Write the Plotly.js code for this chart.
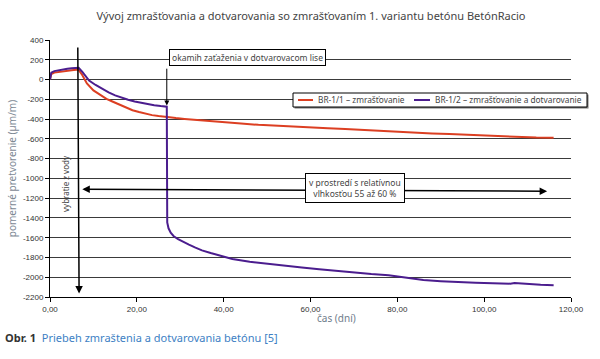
<!DOCTYPE html>
<html>
<head>
<meta charset="utf-8">
<script src="https://cdn.plot.ly/plotly-3.0.1.min.js"></script>
<style>html,body{margin:0;padding:0;background:#fff;}#chart{width:600px;height:359px;}</style>
</head>
<body>
<div id="chart"></div>
<script>
// ---- data ----
const redName = "BR-1/1 – zmrašťovanie";
const purpleName = "BR-1/2 – zmrašťovanie a dotvarovanie";
const redColor = "#dc3f22";
const purpleColor = "#4b1d8e";
const redDays = [0, 0.3, 1, 2, 3, 4, 5, 6, 6.6, 7.3, 8.5, 10, 11.5, 13, 14.5, 16, 17.5, 19, 20.5, 22, 23.5, 25, 27, 29, 31, 34, 37, 40, 44, 48, 52, 56, 60, 64, 68, 72, 76, 80, 84, 88, 92, 96, 100, 104, 108, 112, 116];
const redVals = [0, 55, 70, 78, 85, 90, 95, 100, 98, 55, -40, -110, -155, -195, -225, -255, -282, -310, -328, -345, -360, -370, -382, -390, -398, -410, -420, -432, -445, -458, -468, -477, -485, -493, -500, -510, -520, -528, -537, -545, -552, -560, -568, -575, -582, -587, -590];
const purpleDays = [0, 0.3, 1, 2, 3, 4, 5, 6, 6.6, 7.5, 9, 10.5, 12, 13.5, 15, 16.5, 18, 19.5, 21, 22.5, 24, 25.5, 26.9, 27.0, 27.3, 27.8, 28.5, 29.5, 30.5, 32, 33.5, 35, 37, 39, 42, 46, 50, 54, 58, 62, 66, 70, 74, 78, 82, 86, 90, 94, 98, 102, 106, 107, 110, 113, 116];
const purpleVals = [0, 70, 85, 95, 105, 110, 115, 120, 118, 75, -10, -55, -95, -130, -160, -185, -205, -222, -236, -248, -259, -268, -275, -1445, -1505, -1550, -1585, -1615, -1640, -1670, -1700, -1728, -1755, -1780, -1815, -1843, -1865, -1883, -1902, -1920, -1938, -1955, -1968, -1980, -2005, -2028, -2040, -2050, -2057, -2062, -2065, -2058, -2070, -2075, -2080];
const yTickVals = [400, 200, 0, -200, -400, -600, -800, -1000, -1200, -1400, -1600, -1800, -2000, -2200];
const yTickText = ["400", "200", "0", "-200", "-400", "-600", "-800", "-1000", "-1200", "-1400", "-1600", "-1800", "-2000", "-2200"];
const xTickVals = [0, 20, 40, 60, 80, 100, 120];
const xTickText = ["0,00", "20,00", "40,00", "60,00", "80,00", "100,00", "120,00"];
const titleText = "Vývoj zmrašťovania a dotvarovania so zmrašťovaním 1. variantu betónu BetónRacio";
const yTitle = "pomerné pretvorenie (µm/m)";
const xTitle = "čas (dní)";
const loadNote = "okamih zaťaženia v dotvarovacom lise";
const waterNote = "vybratie z vody";
const humidNote = "v prostredí s relatívnou<br>vlhkosťou 55 až 60 %";
const caption = "<b>Obr. 1</b>  <span style='color:#3d7fc4'>Priebeh zmraštenia a dotvarovania betónu [5]</span>";

// ---- layout helpers (pixel -> paper) ----
const ML = 50, MR = 29, MT = 40, MB = 62, W = 600, H = 359;
const PW = W - ML - MR, PH = H - MT - MB;
const px = x => (x - ML) / PW;
const py = y => (H - MB - y) / PH;
const txt = "Noto Sans, Open Sans, sans-serif";

const traces = [
  {x: redDays, y: redVals, type: "scatter", mode: "lines", name: redName,
   line: {color: redColor, width: 2}},
  {x: purpleDays, y: purpleVals, type: "scatter", mode: "lines", name: purpleName,
   line: {color: purpleColor, width: 2}}
];

// custom compact legend (the reference uses short line samples)
const legBox = {x0: 293, x1: 587, y0: 93, y1: 107};
const legItems = [
  {name: redName, color: redColor, lx0: 298, lx1: 313, tx: 316},
  {name: purpleName, color: purpleColor, lx0: 414, lx1: 430, tx: 433}
];
const legCy = (legBox.y0 + legBox.y1) / 2;
const shapes = [
  {type: "rect", xref: "paper", yref: "paper", x0: px(legBox.x0 + 1.5), x1: px(legBox.x1 + 1.5),
   y0: py(legBox.y0 + 1.5), y1: py(legBox.y1 + 1.5), fillcolor: "#777", line: {width: 0}, layer: "above"},
  {type: "rect", xref: "paper", yref: "paper", x0: px(legBox.x0), x1: px(legBox.x1),
   y0: py(legBox.y0), y1: py(legBox.y1), fillcolor: "#fff", line: {color: "#000", width: 1}, layer: "above"}
];
legItems.forEach(it => shapes.push({type: "line", xref: "paper", yref: "paper",
  x0: px(it.lx0), x1: px(it.lx1), y0: py(legCy), y1: py(legCy),
  line: {color: it.color, width: 2}, layer: "above"}));

const annotations = [
  // x-axis title
  {text: xTitle, xref: "paper", yref: "paper", x: px(336), y: py(318), showarrow: false,
   xanchor: "center", yanchor: "middle", font: {family: txt, size: 10, color: "#6f7d8c"}},
  // caption
  {text: caption, xref: "paper", yref: "paper", x: px(3), y: py(337), showarrow: false,
   xanchor: "left", yanchor: "middle", font: {family: txt, size: 11, color: "#333"}},
  // load moment arrow
  {text: " ", x: 26.9, y: -262, xref: "x", yref: "y", ax: 26.9, ay: 130, axref: "x", ayref: "y",
   showarrow: true, arrowhead: 2, arrowsize: 1, arrowwidth: 1, arrowcolor: "#000", font: {size: 1}},
  // load moment box
  {text: loadNote, xref: "paper", yref: "paper", x: px(247.5), y: py(57.5), showarrow: false,
   xanchor: "center", yanchor: "middle", bgcolor: "#fff", bordercolor: "#000", borderwidth: 1,
   borderpad: 2, font: {family: txt, size: 8.5, color: "#444"}},
  // water removal vertical arrow
  {text: " ", x: 6.7, y: -2165, xref: "x", yref: "y", ax: 6.4, ay: 345, axref: "x", ayref: "y",
   showarrow: true, arrowhead: 2, arrowsize: 1, arrowwidth: 1.5, arrowcolor: "#000", font: {size: 1}},
  {text: waterNote, xref: "paper", yref: "paper", x: px(65), y: py(184), showarrow: false,
   textangle: -90, xanchor: "center", yanchor: "middle", font: {family: txt, size: 8, color: "#444"}},
  // humidity horizontal double arrow
  {text: " ", x: 114.5, y: -1130, xref: "x", yref: "y", ax: 7.1, ay: -1110, axref: "x", ayref: "y",
   showarrow: true, arrowhead: 2, startarrowhead: 2, arrowside: "end+start", arrowsize: 1,
   arrowwidth: 1.5, arrowcolor: "#000", font: {size: 1}},
  {text: humidNote, xref: "paper", yref: "paper", x: px(354.7), y: py(188), showarrow: false,
   xanchor: "center", yanchor: "middle", bgcolor: "#fff", bordercolor: "#000", borderwidth: 1,
   borderpad: 3, font: {family: txt, size: 8.5, color: "#444"}}
];
legItems.forEach(it => annotations.push({text: it.name, xref: "paper", yref: "paper",
  x: px(it.tx), y: py(legCy), showarrow: false, xanchor: "left", yanchor: "middle",
  font: {family: txt, size: 8.3, color: "#444"}}));

const layout = {
  width: W, height: H,
  margin: {l: ML, r: MR, t: MT, b: MB, pad: 0},
  paper_bgcolor: "#fff", plot_bgcolor: "#fff",
  font: {family: "Liberation Sans, Arial, sans-serif", size: 8, color: "#222"},
  title: {text: titleText, x: px(311), xanchor: "center", y: 1 - 16 / H, yanchor: "middle",
          xref: "paper", font: {family: txt, size: 11, color: "#444"}},
  showlegend: false,
  xaxis: {range: [0, 120], tickvals: xTickVals, ticktext: xTickText, showgrid: false,
          zeroline: false, showline: true, linecolor: "#000", linewidth: 1,
          ticks: "outside", ticklen: 4, tickcolor: "#000",
          tickfont: {size: 8, color: "#333"}},
  yaxis: {range: [-2200, 400], tickvals: yTickVals, ticktext: yTickText,
          showgrid: true, gridcolor: "#3a3a3a", gridwidth: 1, zeroline: false,
          showline: true, linecolor: "#000", linewidth: 1,
          ticks: "outside", ticklen: 4, tickcolor: "#000",
          tickfont: {size: 8, color: "#333"},
          title: {text: yTitle, standoff: 4, font: {family: txt, size: 10, color: "#7d8894"}}},
  shapes: shapes,
  annotations: annotations
};

Plotly.newPlot("chart", traces, layout, {staticPlot: true, displayModeBar: false});
</script>
</body>
</html>
